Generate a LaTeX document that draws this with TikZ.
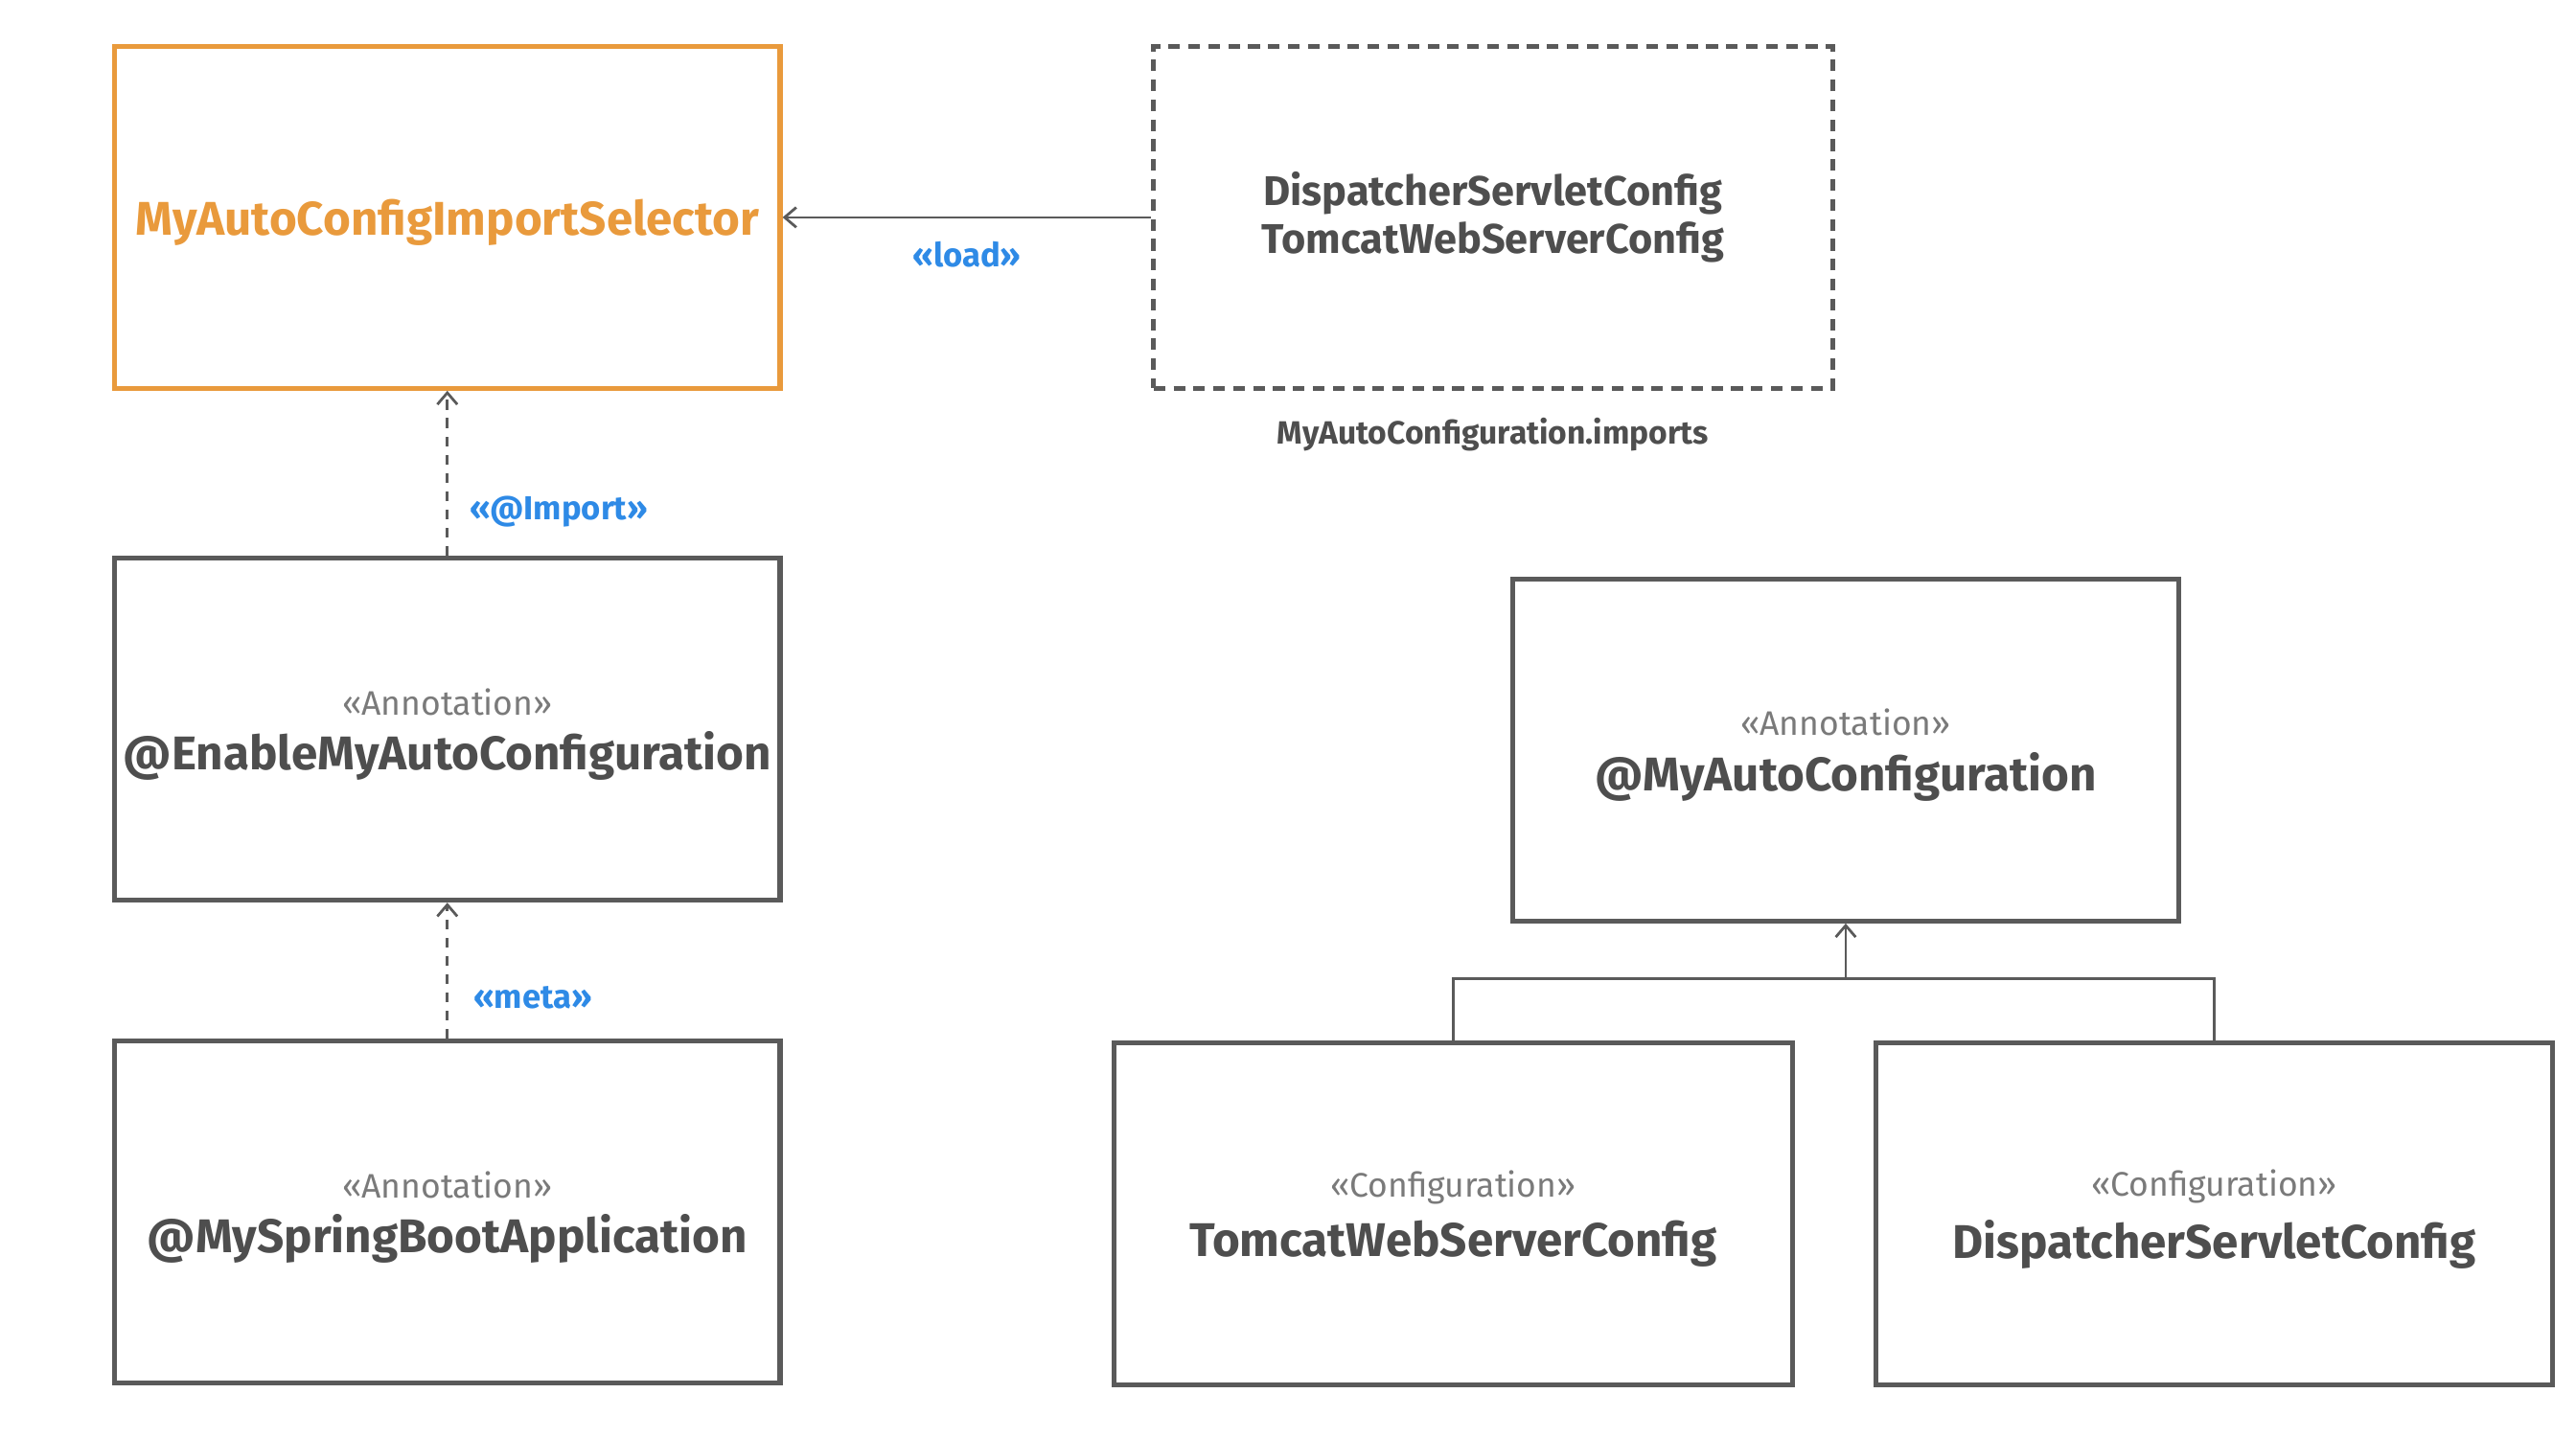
\documentclass[tikz,border=0pt]{standalone}
\usepackage{fontspec}
\setmainfont{Fira Sans}
\usetikzlibrary{arrows.meta}
\definecolor{boxgray}{HTML}{5A5A5A}
\definecolor{txtgray}{HTML}{4E4E4E}
\definecolor{stgray}{HTML}{7A7A7A}
\definecolor{lblue}{HTML}{2E8AE6}
\definecolor{lorange}{HTML}{E99A3C}
\newcommand\mainf{\fontsize{28.5}{33}\selectfont\bfseries}
\newcommand\impf{\fontsize{25}{30}\selectfont\bfseries}
\newcommand\stf{\fontsize{20.5}{24}\selectfont\fontseries{m}\selectfont\color{stgray}}
\newcommand\lblf{\fontsize{20}{24}\selectfont\fontseries{sb}\selectfont\color{lblue}}
\begin{document}
\begin{tikzpicture}[x=1pt,y=-1pt,
  umlbox/.style={draw=boxgray, line width=3pt, minimum width=401, minimum height=206,
    align=center, text=txtgray, inner sep=0pt, text depth=0pt},
  selbox/.style={umlbox, draw=lorange, text=lorange},
  filebox/.style={draw=boxgray, line width=3pt, minimum width=409, minimum height=206,
    align=center, text=txtgray, inner sep=0pt, dashed, dash pattern=on 7pt off 5pt},
  conn/.style={draw=boxgray, line width=1.6pt},
  dconn/.style={conn, dash pattern=on 6pt off 5pt},
  tip/.style={-{Straight Barb[length=7pt,width=12pt,line width=1.6pt]}},
  lbl/.style={font=\lblf, inner sep=0pt}]
\useasboundingbox (0,0) rectangle (1552,867);

\node[selbox] (sel) at (269.5,131) {\mainf MyAutoConfigImportSelector};
\node[filebox] (imp) at (899.5,131) {\impf DispatcherServletConfig\\[3pt]\impf TomcatWebServerConfig};
\node[inner sep=0pt, text=txtgray, font=\fontsize{19.4}{22}\selectfont\fontseries{sb}\selectfont] (impl) at (899.5,262) {MyAutoConfiguration.imports};

\node[umlbox] (ena) at (269.5,439.5) {\stf «Annotation»\\[9pt]\mainf @EnableMyAutoConfiguration};
\node[umlbox] (msb) at (269.5,730.5) {\stf «Annotation»\\[9pt]\mainf @MySpringBootApplication};

\node[umlbox] (mac) at (1112,452) {\stf «Annotation»\\[9pt]\mainf @MyAutoConfiguration};
\node[umlbox, minimum width=409] (tom) at (875.5,731.5) {\stf «Configuration»\\[9pt]\mainf TomcatWebServerConfig};
\node[umlbox, minimum width=408] (dis) at (1334,731.5) {\stf «Configuration»\\[9pt]\mainf DispatcherServletConfig};

\draw[conn, tip] (imp.west) -- node[lbl, pos=0.5, below=14pt] (loadl) {«load»} (sel.east);
\draw[dconn, tip] (ena.north) -- node[lbl, pos=0.27, anchor=west, xshift=13pt] (impl2) {«@Import»} (sel.south);
\draw[dconn, tip] (msb.north) -- node[lbl, pos=0.30, anchor=west, xshift=15pt] (metal) {«meta»} (ena.south);

\coordinate (j) at (1112,590);
\draw[conn] (tom.north) |- (j) -| (dis.north);
\draw[conn, tip] (j) -- (mac.south);
\end{tikzpicture}
\end{document}
